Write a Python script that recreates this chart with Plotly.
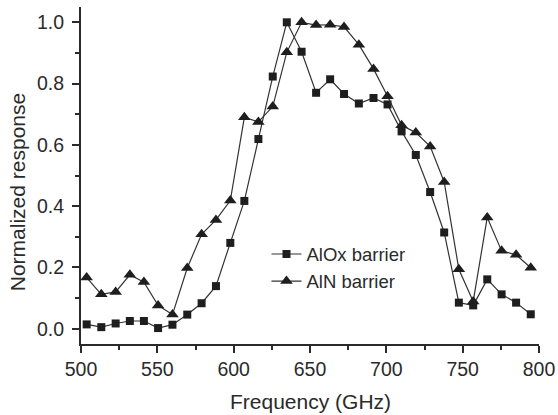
import plotly.graph_objects as go

frequency_ghz = [503.7, 513.3, 522.7, 532.0, 541.2, 550.5, 559.9, 569.6, 579.0, 588.4,
                 597.8, 607.0, 616.2, 625.6, 634.8, 644.5, 654.0, 663.2, 672.3, 682.0,
                 691.6, 700.8, 710.0, 719.3, 728.7, 737.9, 747.5, 756.9, 766.1, 775.5,
                 785.0, 794.6]
alox_response = [0.014, 0.005, 0.017, 0.025, 0.025, 0.002, 0.013, 0.046, 0.083, 0.139,
                 0.280, 0.417, 0.619, 0.823, 1.000, 0.904, 0.770, 0.814, 0.766, 0.735,
                 0.753, 0.732, 0.644, 0.567, 0.446, 0.314, 0.085, 0.076, 0.161, 0.112,
                 0.085, 0.047]
aln_response = [0.167, 0.112, 0.120, 0.176, 0.152, 0.076, 0.046, 0.198, 0.308, 0.355,
                0.418, 0.690, 0.675, 0.725, 0.902, 1.000, 0.991, 0.992, 0.985, 0.927,
                0.848, 0.759, 0.664, 0.640, 0.595, 0.479, 0.194, 0.089, 0.363, 0.254,
                0.241, 0.199]
series_names = ["AlOx barrier", "AlN barrier"]
x_title = "Frequency (GHz)"
y_title = "Normalized response"

FONT = "Liberation Sans, Arial, sans-serif"
INK = "#1e1e1e"
AX = "#2a2a2a"
TXT = "#2a2a2a"
XR = [500, 800]
YR = [-0.05, 1.05]

fig = go.Figure()
fig.add_trace(go.Scatter(
    x=frequency_ghz, y=alox_response, name=series_names[0], mode="lines+markers",
    line=dict(color="#333333", width=1.2),
    marker=dict(symbol="square", size=8, color=INK),
))
fig.add_trace(go.Scatter(
    x=frequency_ghz, y=aln_response, name=series_names[1], mode="lines+markers",
    line=dict(color="#333333", width=1.2),
    marker=dict(symbol="triangle-up", size=11, color=INK),
))

tick_font = dict(family=FONT, size=19.5, color=TXT)
title_font = dict(family=FONT, size=21, color=TXT)

fig.update_layout(
    width=558, height=415,
    margin=dict(l=81, r=19, t=7, b=71, autoexpand=False),
    paper_bgcolor="white", plot_bgcolor="white",
    font=dict(family=FONT, size=18, color=TXT),
    showlegend=True,
    legend=dict(x=0.405, y=0.322, xanchor="left", yanchor="top",
                bgcolor="rgba(0,0,0,0)", borderwidth=0,
                font=dict(family=FONT, size=18.5, color=TXT),
                tracegroupgap=0),
    xaxis=dict(range=XR, showgrid=False, zeroline=False,
               showline=True, linecolor=AX, linewidth=2,
               ticks="outside", ticklen=7, tickwidth=1.5, tickcolor=AX,
               tick0=500, dtick=50,
               minor=dict(ticks="outside", ticklen=4, tickwidth=1.5, tickcolor=AX, dtick=25),
               tickfont=tick_font),
    yaxis=dict(range=YR, showgrid=False, zeroline=False,
               showline=True, linecolor=AX, linewidth=2,
               ticks="outside", ticklen=7, tickwidth=1.5, tickcolor=AX,
               tick0=0, dtick=0.2, tickformat=".1f", ticklabelstandoff=4,
               minor=dict(ticks="outside", ticklen=4, tickwidth=1.5, tickcolor=AX, dtick=0.1),
               tickfont=tick_font),
    xaxis2=dict(range=XR, overlaying="x", side="top", showgrid=False, zeroline=False,
                showline=True, linecolor=AX, linewidth=2, showticklabels=False,
                ticks="inside", ticklen=7, tickwidth=1.5, tickcolor=AX, tick0=500, dtick=50,
                minor=dict(ticks="inside", ticklen=4, tickwidth=1.5, tickcolor=AX, dtick=25)),
    yaxis2=dict(range=YR, overlaying="y", side="right", showgrid=False, zeroline=False,
                showline=True, linecolor=AX, linewidth=2, showticklabels=False,
                ticks="inside", ticklen=7, tickwidth=1.5, tickcolor=AX, tick0=0, dtick=0.2,
                minor=dict(ticks="inside", ticklen=6, tickwidth=1.5, tickcolor=AX, dtick=0.1)),
    annotations=[
        dict(text=x_title, xref="paper", yref="paper", x=0.5, y=-0.170,
             xanchor="center", yanchor="middle", showarrow=False, font=title_font),
        dict(text=y_title, xref="paper", yref="paper", x=-0.140, y=0.45,
             xanchor="center", yanchor="middle", showarrow=False, textangle=-90,
             font=title_font),
    ],
)

fig.write_html("out.html", config={"displayModeBar": False},
               post_script="document.body.style.margin='0';")
